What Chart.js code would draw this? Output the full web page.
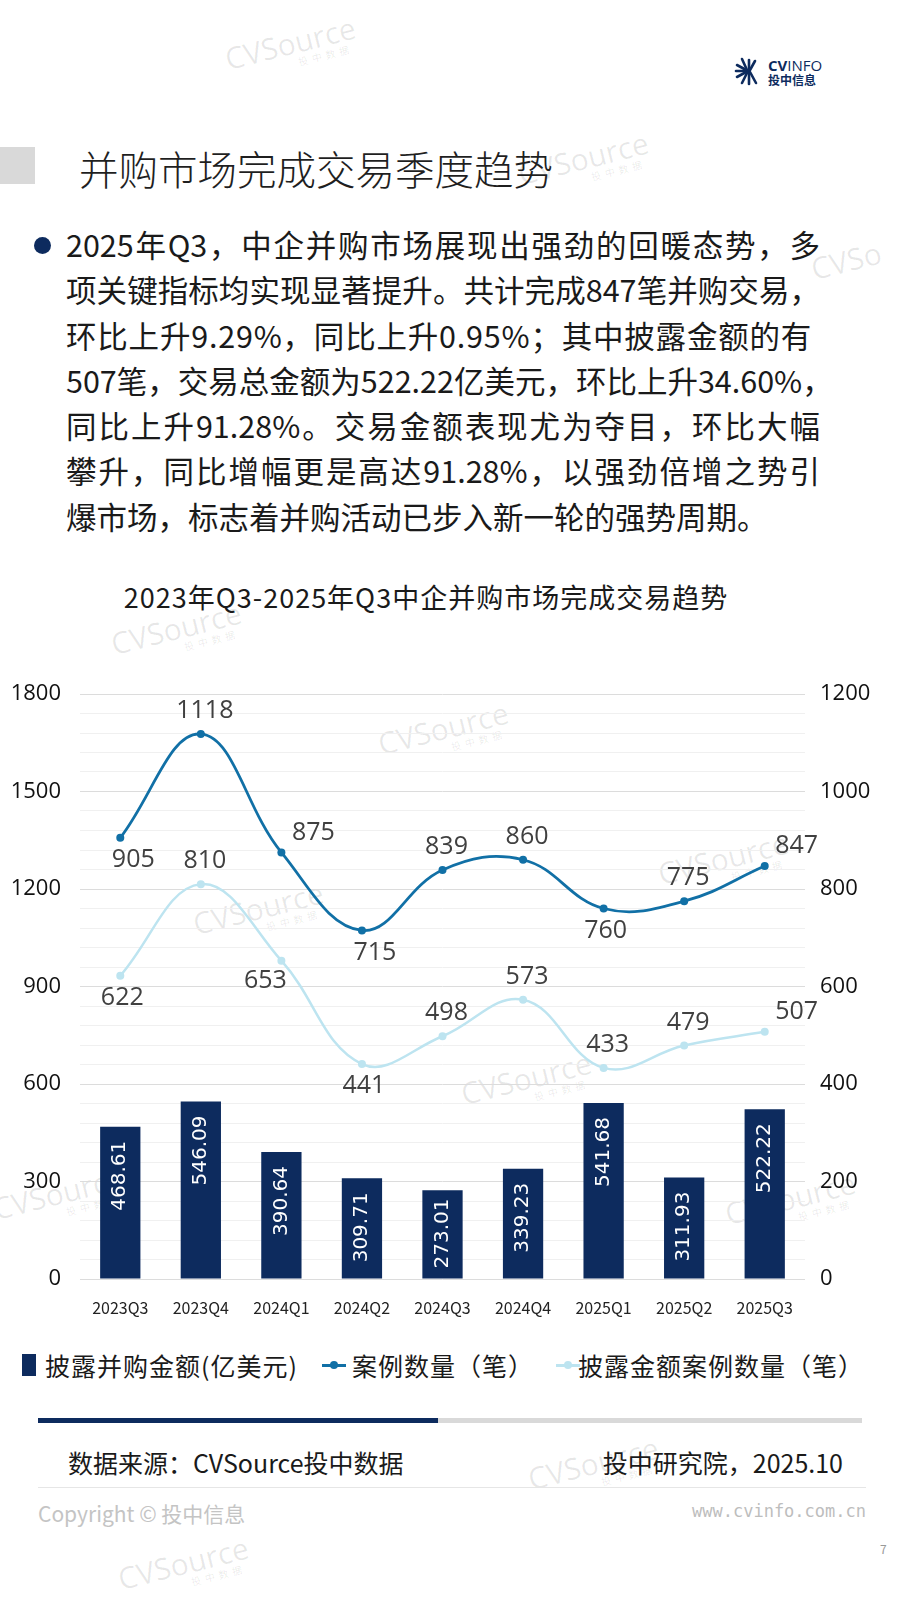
<!DOCTYPE html>
<html>
<head>
<meta charset="utf-8">
<script src="https://cdn.jsdelivr.net/npm/chart.js@4"></script>
<style>
  html, body { margin: 0; padding: 0; background: #fff; }
  body { width: 900px; height: 1600px; position: relative; overflow: hidden;
         font-family: "Noto Sans CJK SC", "Noto Sans", sans-serif; color: #1a1a1a; }
  .abs { position: absolute; white-space: nowrap; }
  .wm { position: absolute; color: rgba(0,0,0,0.09); font-family: "Open Sans", sans-serif;
        font-size: 30px; transform: rotate(-14deg); transform-origin: left top; line-height: 1; }
  .wm small { display: block; font-size: 10px; margin-left: 70px; font-family: "Noto Sans CJK SC"; letter-spacing: 4px; }
  .para div { height: 45.3px; line-height: 45.3px; font-size: 30.5px; width: 754px; }
  .para .j { text-align: justify; text-align-last: justify; }
  .legend { position: absolute; top: 1345px; left: 0; width: 900px; height: 40px; font-size: 25px; letter-spacing: 1px; }
  .legend span { position: absolute; top: 0; line-height: 40px; white-space: nowrap; color: #1a1a1a; }
</style>
</head>
<body>

<!-- watermarks -->
<div class="wm" style="left:222px;top:45px;">CVSource<small>投中数据</small></div>
<div class="wm" style="left:515px;top:160px;">CVSource<small>投中数据</small></div>
<div class="wm" style="left:808px;top:255px;">CVSo</div>
<div class="wm" style="left:108px;top:630px;">CVSource<small>投中数据</small></div>
<div class="wm" style="left:375px;top:730px;">CVSource<small>投中数据</small></div>
<div class="wm" style="left:655px;top:860px;">CVSource<small>投中数据</small></div>
<div class="wm" style="left:190px;top:910px;">CVSource<small>投中数据</small></div>
<div class="wm" style="left:458px;top:1080px;">CVSource<small>投中数据</small></div>
<div class="wm" style="left:-10px;top:1195px;">CVSource<small>投中数据</small></div>
<div class="wm" style="left:722px;top:1200px;">CVSource<small>投中数据</small></div>
<div class="wm" style="left:525px;top:1465px;">CVSource<small>投中数据</small></div>
<div class="wm" style="left:115px;top:1565px;">CVSource<small>投中数据</small></div>

<!-- logo -->
<svg class="abs" style="left:734px;top:56px;" width="30" height="30" viewBox="0 0 30 30">
  <g stroke="#0d2b5e" stroke-width="2.6" stroke-linecap="round">
    <line x1="14" y1="15" x2="3" y2="9"/>
    <line x1="14" y1="15" x2="2" y2="15"/>
    <line x1="14" y1="15" x2="3" y2="21"/>
    <line x1="14" y1="15" x2="8" y2="27"/>
    <line x1="15" y1="16" x2="15" y2="28"/>
    <line x1="16" y1="16" x2="22" y2="27"/>
    <line x1="13" y1="14" x2="8" y2="3"/>
    <line x1="15" y1="14" x2="15" y2="4"/>
    <line x1="16" y1="14" x2="21" y2="5"/>
  </g>
</svg>
<div class="abs" style="left:768px;top:56px;font-family:'Open Sans';font-size:15px;line-height:18px;color:#0d2b5e;"><b>CV</b>INFO</div>
<div class="abs" style="left:768px;top:72px;font-size:12px;line-height:15px;font-weight:700;color:#0d2b5e;">投中信息</div>

<!-- title -->
<div class="abs" style="left:0;top:147px;width:35px;height:37px;background:#d9d9d9;"></div>
<div class="abs" style="left:79px;top:139px;font-size:39.5px;line-height:58px;font-weight:300;color:#1f1f1f;">并购市场完成交易季度趋势</div>

<!-- paragraph -->
<div class="abs" style="left:34px;top:237px;width:17px;height:17px;border-radius:50%;background:#0d2b5e;"></div>
<div class="abs para" style="left:66px;top:222px;">
  <div class="j">2025年Q3，中企并购市场展现出强劲的回暖态势，多</div>
  <div class="j">项关键指标均实现显著提升。共计完成847笔并购交易，</div>
  <div style="letter-spacing:0.8px;">环比上升9.29%，同比上升0.95%；其中披露金额的有</div>
  <div class="j">507笔，交易总金额为522.22亿美元，环比上升34.60%，</div>
  <div class="j">同比上升91.28%。交易金额表现尤为夺目，环比大幅</div>
  <div class="j">攀升，同比增幅更是高达91.28%，以强劲倍增之势引</div>
  <div>爆市场，标志着并购活动已步入新一轮的强势周期。</div>
</div>

<!-- chart title -->
<div class="abs" style="left:0;top:579px;width:852px;text-align:center;font-size:27px;letter-spacing:1px;line-height:36px;color:#1a1a1a;">2023年Q3-2025年Q3中企并购市场完成交易趋势</div>

<div style="position:absolute;left:0;top:660px;width:900px;height:680px;">
  <canvas id="myChart"></canvas>
</div>

<!-- legend -->
<div class="legend">
  <div class="abs" style="left:22px;top:9px;width:14px;height:22px;background:#0d2b5e;"></div>
  <span style="left:45px;">披露并购金额(亿美元)</span>
  <div class="abs" style="left:322px;top:19px;width:24px;height:3px;background:#1170a6;"></div>
  <div class="abs" style="left:330px;top:16px;width:8px;height:8px;border-radius:50%;background:#1170a6;"></div>
  <span style="left:352px;">案例数量（笔）</span>
  <div class="abs" style="left:556px;top:19px;width:24px;height:3px;background:#bde4f0;"></div>
  <div class="abs" style="left:564px;top:16px;width:8px;height:8px;border-radius:50%;background:#bde4f0;"></div>
  <span style="left:578px;">披露金额案例数量（笔）</span>
</div>

<!-- footer -->
<div class="abs" style="left:38px;top:1418px;width:400px;height:5px;background:#0d2b5e;"></div>
<div class="abs" style="left:438px;top:1418px;width:424px;height:5px;background:#d9d9d9;"></div>
<div class="abs" style="left:68px;top:1443px;font-size:25px;line-height:38px;">数据来源：CVSource投中数据</div>
<div class="abs" style="right:57px;top:1443px;font-size:25px;line-height:38px;">投中研究院，2025.10</div>
<div class="abs" style="left:38px;top:1487px;width:828px;height:1px;background:#e6e6e6;"></div>
<div class="abs" style="left:38px;top:1497px;font-size:21px;line-height:32px;color:#c4c4c4;">Copyright © 投中信息</div>
<div class="abs" style="right:34px;top:1497px;font-size:17px;line-height:28px;color:#bdbdbd;font-family:'DejaVu Sans Mono';">www.cvinfo.com.cn</div>
<div class="abs" style="left:880px;top:1541px;font-size:12px;line-height:16px;color:#999;">7</div>

<script>
// 季度
var quarters = ['2023Q3', '2023Q4', '2024Q1', '2024Q2', '2024Q3', '2024Q4', '2025Q1', '2025Q2', '2025Q3'];
// 披露并购金额（亿美元）
var amounts = [468.61, 546.09, 390.64, 309.71, 273.01, 339.23, 541.68, 311.93, 522.22];
// 案例数量（笔）
var dealCounts = [905, 1118, 875, 715, 839, 860, 760, 775, 847];
// 披露金额案例数量（笔）
var disclosedCounts = [622, 810, 653, 441, 498, 573, 433, 479, 507];

// 标签位置：t 上, b 下, tr 右上, br 右下, bl 左下
var dealLabelPos = ['br', 't', 'tr', 'br', 't', 't', 'b', 't', 'tr'];
var disclosedLabelPos = ['b', 't', 'bl', 'b', 't', 't', 't', 't', 'tr'];
var posOffset = { t: [4, -23], b: [2, 22], tr: [32, -20], br: [13, 22], bl: [-16, 20] };

var valueLabels = {
  id: 'valueLabels',
  afterDatasetsDraw: function (chart) {
    var ctx = chart.ctx;
    chart.data.datasets.forEach(function (ds, i) {
      var meta = chart.getDatasetMeta(i);
      meta.data.forEach(function (el, j) {
        var v = ds.data[j];
        ctx.save();
        if (ds.type === 'bar') {
          var txt = v.toFixed(2);
          ctx.font = '20px "DejaVu Sans"';
          var w = ctx.measureText(txt).width;
          var start = el.y + 14;
          if (start + w > el.base - 10) start = el.base - 10 - w;
          ctx.translate(el.x, start);
          ctx.rotate(-Math.PI / 2);
          ctx.fillStyle = '#ffffff';
          ctx.textAlign = 'right';
          ctx.textBaseline = 'middle';
          ctx.fillText(txt, 0, 0);
        } else {
          var off = posOffset[ds.labelPos[j]];
          ctx.font = '25px "Open Sans"';
          ctx.fillStyle = '#404040';
          ctx.textAlign = 'center';
          ctx.textBaseline = 'middle';
          ctx.fillText(String(v), el.x + off[0], el.y + off[1]);
        }
        ctx.restore();
      });
    });
  }
};

var ctx = document.getElementById('myChart').getContext('2d');

var chart = new Chart(ctx, {
  type: 'bar',
  data: {
    labels: quarters,
    datasets: [{
      type: 'line',
      label: '案例数量（笔）',
      data: dealCounts,
      yAxisID: 'y1',
      borderColor: '#1170a6',
      backgroundColor: '#1170a6',
      borderWidth: 2.8,
      pointRadius: 4,
      pointBackgroundColor: '#1170a6',
      pointBorderWidth: 0,
      tension: 0.4,
      labelPos: dealLabelPos,
      order: 1
    }, {
      type: 'line',
      label: '披露金额案例数量（笔）',
      data: disclosedCounts,
      yAxisID: 'y1',
      borderColor: '#bde4f0',
      backgroundColor: '#bde4f0',
      borderWidth: 2.5,
      pointRadius: 4,
      pointBackgroundColor: '#bde4f0',
      pointBorderWidth: 0,
      tension: 0.4,
      labelPos: disclosedLabelPos,
      order: 2
    }, {
      type: 'bar',
      label: '披露并购金额(亿美元)',
      data: amounts,
      yAxisID: 'y',
      backgroundColor: '#0d2b5e',
      categoryPercentage: 1,
      barPercentage: 0.5,
      order: 3
    }]
  },
  options: {
    responsive: true,
    maintainAspectRatio: false,
    animation: false,
    layout: { padding: { top: 34 } },
    plugins: {
      legend: { display: false },
      tooltip: { enabled: false }
    },
    scales: {
      x: {
        grid: { display: false },
        border: { display: false },
        ticks: { color: '#222', font: { family: 'Noto Sans CJK SC', size: 16 }, padding: 11, maxRotation: 0 },
        afterFit: function (s) { s.height = 61; }
      },
      y: {
        position: 'left',
        min: 0,
        max: 1800,
        border: { display: false },
        grid: {
          drawTicks: false,
          color: function (c) { return c.tick && c.tick.value % 300 === 0 ? '#dcdcdc' : '#f0f0f0'; }
        },
        ticks: {
          stepSize: 60,
          autoSkip: false,
          padding: 19,
          color: '#111',
          font: { family: 'Open Sans', size: 22 },
          callback: function (v) { return v % 300 === 0 ? String(v) : ''; }
        },
        afterFit: function (s) { s.width = 80; }
      },
      y1: {
        position: 'right',
        min: 0,
        max: 1200,
        border: { display: false },
        grid: { display: false, drawTicks: false },
        ticks: {
          stepSize: 200,
          padding: 15,
          color: '#111',
          font: { family: 'Open Sans', size: 22 },
          callback: function (v) { return String(v); }
        },
        afterFit: function (s) { s.width = 95; }
      }
    }
  },
  plugins: [valueLabels]
});
</script>
</body>
</html>
